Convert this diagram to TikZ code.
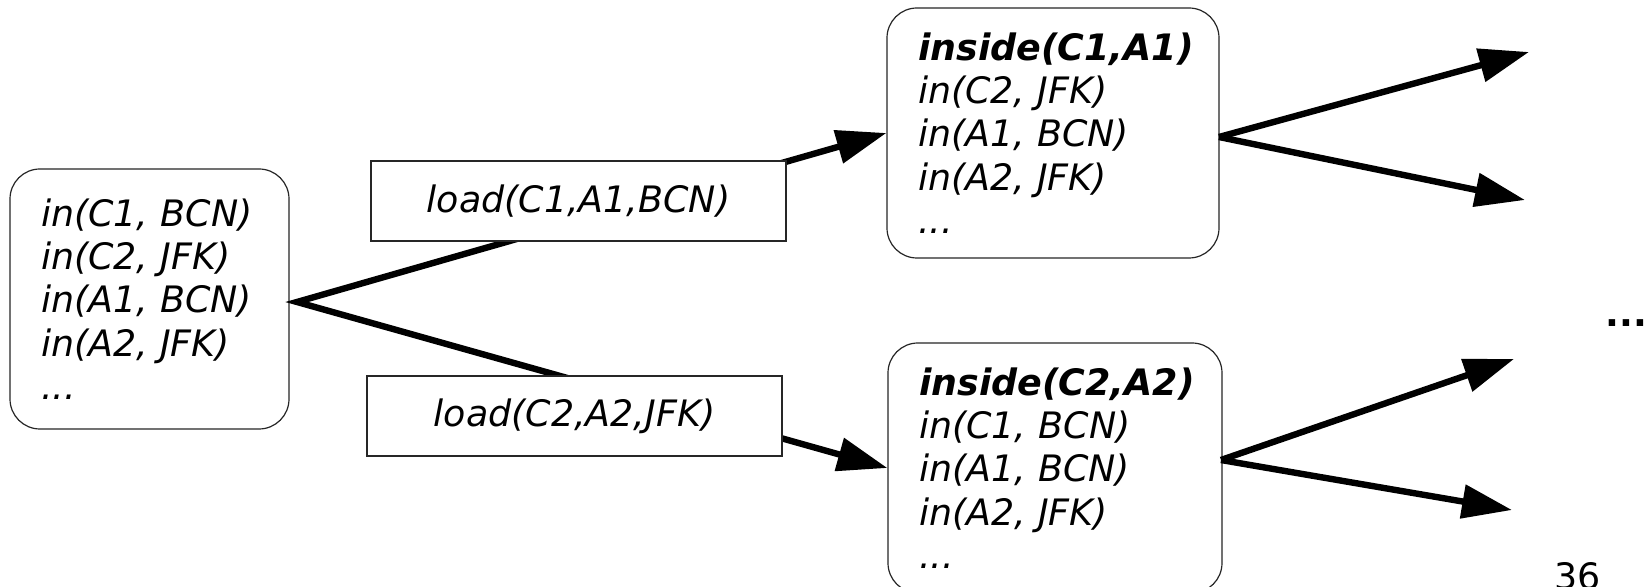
\documentclass[tikz,border=0pt]{standalone}
\usepackage{fontspec}
\setmainfont{DejaVu Sans}[ItalicFont={DejaVu Sans Oblique},BoldFont={DejaVu Sans Bold},BoldItalicFont={DejaVu Sans Bold Oblique}]
\usetikzlibrary{arrows.meta}

\begin{document}
\begin{tikzpicture}[x=0.5pt,y=-0.5pt,
  txt/.style={font=\fontsize{18.2pt}{21.65pt}\selectfont},
  state/.style={txt, draw=black!85, line width=0.6pt, rounded corners=15pt, fill=white,
    align=left, inner ysep=0pt, inner xsep=15.5pt,
    font=\fontsize{18.2pt}{21.65pt}\selectfont\itshape},
  action/.style={txt, draw=black!85, line width=0.6pt, fill=white,
    minimum width=207.5pt, minimum height=40pt, inner sep=0pt,
    font=\fontsize{18.2pt}{21.65pt}\selectfont\itshape},
  move/.style={line width=3.2pt, -{Triangle[length=25pt,width=16.5pt]}},
  fork/.style={line width=3.2pt, line join=miter,
    {Triangle[length=25pt,width=16.5pt]}-{Triangle[length=25pt,width=16.5pt]}}
]
\useasboundingbox (0,0) rectangle (1651,587);
\clip (0,0) rectangle (1651,587);

% states
\node[state, text width=108.5pt, minimum height=130pt] (s0) at (149.5,299)
  {in(C1, BCN)\\ in(C2, JFK)\\ in(A1, BCN)\\ in(A2, JFK)\\ ...};
\node[state, text width=135pt, minimum height=125pt] (s1) at (1053,133)
  {\textbf{inside(C1,A1)}\\ in(C2, JFK)\\ in(A1, BCN)\\ in(A2, JFK)\\ ...};
\node[state, text width=136pt, minimum height=125pt] (s2) at (1055,468)
  {\textbf{inside(C2,A2)}\\ in(C1, BCN)\\ in(A1, BCN)\\ in(A2, JFK)\\ ...};

% transitions from the initial state
\coordinate (j0) at (297,302);
\draw[fork] (s1.west) -- (j0) -- (s2.west);

% action labels over the transitions
\node[action] (a1) at (578.5,201) {load(C1,A1,BCN)};
\node[action] (a2) at (574.5,416) {load(C2,A2,JFK)};

% further successors
\coordinate (j1) at (1219,137);
\coordinate (j2) at (1221,460);
\coordinate (e1) at (1529,52);
\coordinate (e2) at (1525,200);
\coordinate (e3) at (1514,359);
\coordinate (e4) at (1512,510);
\draw[move] (j1) -- (e1);
\draw[move] (j1) -- (e2);
\draw[move] (j2) -- (e3);
\draw[move] (j2) -- (e4);

\node[txt, anchor=base west, inner sep=0pt, font=\fontsize{18.2pt}{21.65pt}\selectfont\bfseries] (more) at (1605,327) {...};
\node[txt, anchor=base west, inner sep=0pt] (page) at (1554,590) {36};
\end{tikzpicture}
\end{document}
